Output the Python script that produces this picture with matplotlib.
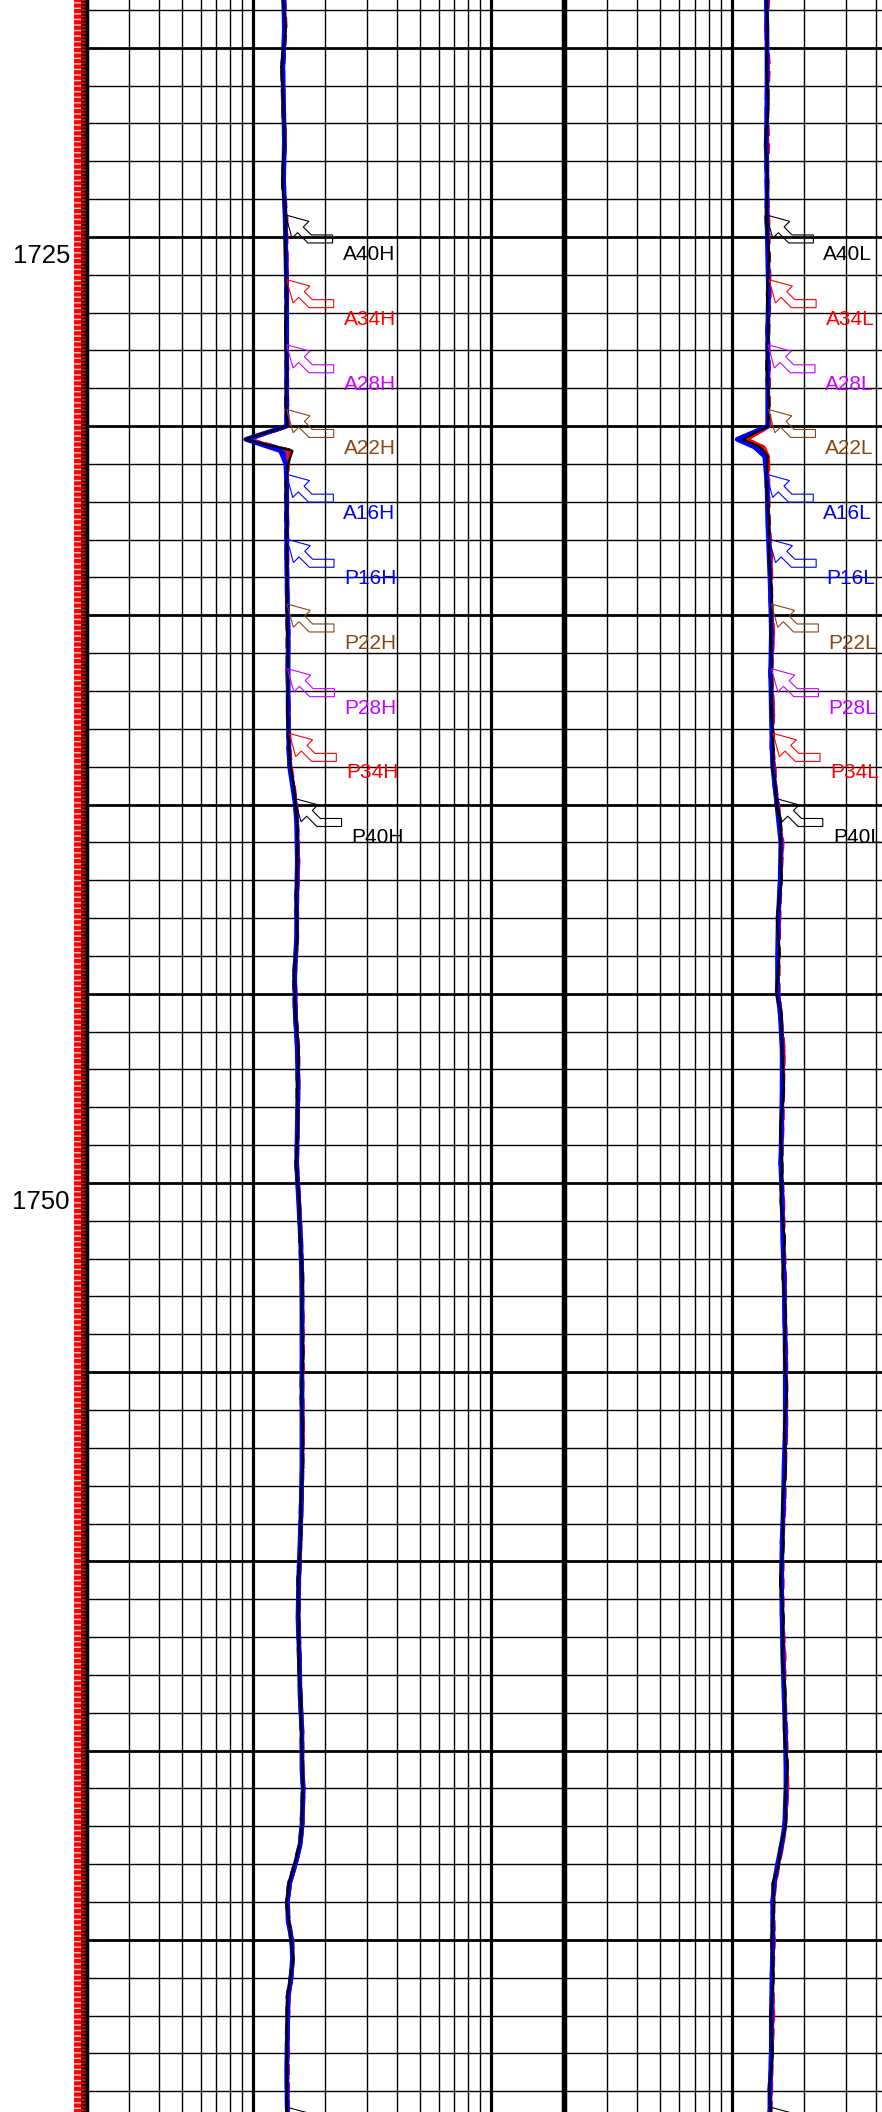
import numpy as np
import matplotlib
matplotlib.use("Agg")
import matplotlib.pyplot as plt
from matplotlib.patches import Polygon, Rectangle
from matplotlib.transforms import Affine2D, ScaledTranslation, blended_transform_factory

plt.rcParams['font.family'] = ['Liberation Sans', 'DejaVu Sans']
plt.rcParams['hatch.linewidth'] = 1.0

# ---------------- data (ohm.m vs depth m) ----------------
top_depth, bottom_depth = 1718.74, 1774.55
depth_labels = [1725, 1750]

depth_h = [1718.7, 1719.5, 1720.5, 1721.5, 1722.5, 1723.5, 1724.5, 1725.5, 1726.5, 1727.5,
           1728.5, 1729.5, 1730.0, 1730.35, 1730.65, 1731.0, 1731.5, 1732.5, 1733.5, 1734.5,
           1735.5, 1736.5, 1737.5, 1738.5, 1739.0, 1739.5, 1740.0, 1740.5, 1741.5, 1742.5,
           1743.5, 1744.5, 1745.5, 1746.5, 1747.5, 1748.5, 1749.5, 1750.5, 1751.5, 1752.5,
           1753.5, 1754.5, 1755.5, 1756.5, 1757.5, 1758.5, 1759.5, 1760.5, 1761.5, 1762.5,
           1763.5, 1764.5, 1765.5, 1766.0, 1767.0, 1767.5, 1768.0, 1768.5, 1769.0, 1769.5,
           1770.0, 1770.5, 1771.0, 1771.5, 1772.5, 1773.5, 1774.6]

A40H = [1.33, 1.37, 1.31, 1.34, 1.35, 1.32, 1.37, 1.36, 1.38, 1.36,
        1.38, 1.37, 1.39, 0.92, 1.46, 1.40, 1.37, 1.38, 1.38, 1.39,
        1.39, 1.40, 1.39, 1.41, 1.43, 1.48, 1.50, 1.53, 1.53, 1.51,
        1.53, 1.48, 1.50, 1.55, 1.53, 1.54, 1.51, 1.56, 1.57, 1.61,
        1.59, 1.62, 1.59, 1.61, 1.61, 1.58, 1.58, 1.54, 1.55, 1.55,
        1.58, 1.59, 1.61, 1.61, 1.60, 1.56, 1.49, 1.41, 1.38, 1.41,
        1.44, 1.47, 1.43, 1.39, 1.38, 1.38, 1.38]
A34H = [1.35, 1.36, 1.33, 1.33, 1.36, 1.34, 1.37, 1.38, 1.38, 1.38,
        1.39, 1.38, 1.40, 0.94, 1.42, 1.39, 1.39, 1.38, 1.39, 1.38,
        1.41, 1.39, 1.41, 1.41, 1.44, 1.47, 1.51, 1.52, 1.55, 1.53,
        1.52, 1.50, 1.51, 1.54, 1.55, 1.53, 1.53, 1.55, 1.59, 1.60,
        1.61, 1.61, 1.61, 1.62, 1.60, 1.60, 1.57, 1.56, 1.54, 1.57,
        1.57, 1.61, 1.60, 1.63, 1.61, 1.58, 1.51, 1.43, 1.40, 1.40,
        1.45, 1.46, 1.45, 1.41, 1.40, 1.39, 1.40]
A28H = [1.34, 1.36, 1.33, 1.34, 1.36, 1.34, 1.37, 1.38, 1.39, 1.38,
        1.38, 1.38, 1.39, 0.95, 1.41, 1.39, 1.38, 1.38, 1.39, 1.39,
        1.40, 1.40, 1.40, 1.42, 1.43, 1.47, 1.51, 1.53, 1.54, 1.53,
        1.52, 1.50, 1.50, 1.54, 1.54, 1.54, 1.52, 1.55, 1.58, 1.60,
        1.60, 1.61, 1.60, 1.61, 1.60, 1.59, 1.57, 1.55, 1.55, 1.56,
        1.58, 1.60, 1.61, 1.62, 1.60, 1.57, 1.50, 1.43, 1.39, 1.40,
        1.45, 1.46, 1.44, 1.40, 1.39, 1.39, 1.39]
A22H = [1.34, 1.35, 1.33, 1.33, 1.35, 1.34, 1.36, 1.37, 1.38, 1.37,
        1.38, 1.38, 1.39, 0.96, 1.40, 1.39, 1.38, 1.38, 1.38, 1.39,
        1.40, 1.39, 1.40, 1.41, 1.43, 1.46, 1.50, 1.52, 1.54, 1.52,
        1.52, 1.49, 1.50, 1.53, 1.54, 1.53, 1.52, 1.55, 1.58, 1.59,
        1.60, 1.60, 1.60, 1.61, 1.60, 1.59, 1.57, 1.55, 1.54, 1.56,
        1.57, 1.60, 1.60, 1.62, 1.60, 1.57, 1.50, 1.42, 1.39, 1.40,
        1.45, 1.46, 1.44, 1.40, 1.39, 1.38, 1.39]
A16H = [1.34, 1.35, 1.33, 1.34, 1.35, 1.34, 1.36, 1.37, 1.38, 1.38,
        1.38, 1.38, 1.38, 0.93, 1.30, 1.37, 1.38, 1.38, 1.38, 1.39,
        1.40, 1.40, 1.40, 1.41, 1.42, 1.46, 1.50, 1.52, 1.53, 1.52,
        1.52, 1.49, 1.50, 1.53, 1.54, 1.53, 1.52, 1.55, 1.58, 1.60,
        1.60, 1.60, 1.60, 1.60, 1.60, 1.59, 1.57, 1.55, 1.54, 1.56,
        1.57, 1.60, 1.60, 1.62, 1.60, 1.57, 1.50, 1.42, 1.39, 1.40,
        1.45, 1.46, 1.44, 1.40, 1.39, 1.38, 1.39]
P16H = [1.35, 1.36, 1.34, 1.33, 1.36, 1.33, 1.37, 1.37, 1.38, 1.37,
        1.39, 1.38, 1.39, 0.94, 1.33, 1.38, 1.38, 1.39, 1.38, 1.39,
        1.40, 1.39, 1.41, 1.41, 1.43, 1.47, 1.50, 1.53, 1.54, 1.52,
        1.53, 1.49, 1.51, 1.54, 1.55, 1.53, 1.52, 1.56, 1.58, 1.60,
        1.61, 1.61, 1.60, 1.61, 1.61, 1.59, 1.58, 1.55, 1.55, 1.56,
        1.58, 1.60, 1.61, 1.62, 1.61, 1.57, 1.50, 1.42, 1.39, 1.41,
        1.45, 1.46, 1.44, 1.40, 1.39, 1.39, 1.39]
P22H = [1.34, 1.36, 1.33, 1.34, 1.35, 1.34, 1.37, 1.37, 1.38, 1.38,
        1.38, 1.39, 1.39, 0.95, 1.38, 1.39, 1.38, 1.38, 1.39, 1.38,
        1.40, 1.40, 1.40, 1.41, 1.43, 1.47, 1.51, 1.52, 1.54, 1.53,
        1.52, 1.50, 1.50, 1.54, 1.54, 1.53, 1.52, 1.55, 1.58, 1.59,
        1.60, 1.61, 1.60, 1.61, 1.60, 1.59, 1.57, 1.56, 1.54, 1.56,
        1.57, 1.60, 1.60, 1.62, 1.60, 1.57, 1.50, 1.43, 1.39, 1.40,
        1.45, 1.46, 1.44, 1.40, 1.39, 1.39, 1.39]
P28H = [1.35, 1.36, 1.33, 1.34, 1.36, 1.33, 1.37, 1.38, 1.38, 1.38,
        1.38, 1.38, 1.40, 0.96, 1.42, 1.39, 1.38, 1.39, 1.39, 1.39,
        1.40, 1.39, 1.41, 1.42, 1.43, 1.47, 1.51, 1.53, 1.54, 1.53,
        1.52, 1.50, 1.51, 1.54, 1.54, 1.54, 1.52, 1.55, 1.59, 1.60,
        1.61, 1.61, 1.60, 1.61, 1.60, 1.59, 1.57, 1.56, 1.55, 1.56,
        1.58, 1.60, 1.61, 1.62, 1.60, 1.57, 1.51, 1.43, 1.39, 1.40,
        1.45, 1.46, 1.44, 1.41, 1.39, 1.39, 1.39]
P34H = [1.35, 1.37, 1.33, 1.34, 1.36, 1.34, 1.38, 1.38, 1.39, 1.38,
        1.39, 1.39, 1.40, 0.95, 1.43, 1.40, 1.39, 1.39, 1.39, 1.39,
        1.41, 1.40, 1.41, 1.42, 1.44, 1.48, 1.52, 1.53, 1.55, 1.53,
        1.53, 1.50, 1.51, 1.55, 1.55, 1.54, 1.53, 1.56, 1.59, 1.61,
        1.61, 1.62, 1.61, 1.62, 1.61, 1.60, 1.58, 1.56, 1.55, 1.57,
        1.58, 1.61, 1.61, 1.63, 1.61, 1.58, 1.51, 1.43, 1.40, 1.41,
        1.46, 1.47, 1.45, 1.41, 1.40, 1.40, 1.40]
P40H = [1.34, 1.36, 1.32, 1.33, 1.35, 1.33, 1.36, 1.37, 1.37, 1.37,
        1.38, 1.37, 1.38, 0.93, 1.44, 1.39, 1.37, 1.37, 1.38, 1.38,
        1.39, 1.39, 1.40, 1.40, 1.42, 1.47, 1.50, 1.52, 1.53, 1.51,
        1.52, 1.48, 1.49, 1.53, 1.53, 1.53, 1.51, 1.55, 1.57, 1.59,
        1.60, 1.60, 1.59, 1.60, 1.60, 1.58, 1.57, 1.54, 1.54, 1.55,
        1.57, 1.59, 1.60, 1.61, 1.59, 1.56, 1.49, 1.41, 1.38, 1.40,
        1.44, 1.46, 1.43, 1.39, 1.38, 1.38, 1.38]

depth_l = [1718.7, 1719.5, 1720.5, 1721.5, 1722.5, 1723.5, 1724.5, 1725.5, 1726.5, 1727.5,
           1728.5, 1729.5, 1730.0, 1730.35, 1730.55, 1730.8, 1731.5, 1732.5, 1733.5, 1734.5,
           1735.5, 1736.5, 1737.5, 1738.5, 1739.0, 1739.5, 1740.0, 1740.5, 1741.0, 1742.0,
           1743.0, 1744.0, 1745.0, 1745.5, 1746.5, 1747.5, 1748.5, 1749.5, 1750.5, 1751.5,
           1752.5, 1753.5, 1754.5, 1755.5, 1756.5, 1757.5, 1758.5, 1759.5, 1760.5, 1761.5,
           1762.5, 1763.5, 1764.5, 1765.5, 1766.0, 1767.0, 1767.5, 1768.0, 1768.5, 1769.0,
           1770.0, 1771.0, 1772.0, 1773.0, 1774.0, 1774.6]

A40L = [1.39, 1.41, 1.39, 1.42, 1.38, 1.41, 1.39, 1.43, 1.40, 1.42,
        1.40, 1.43, 1.41, 1.11, 1.31, 1.41, 1.39, 1.43, 1.43, 1.47,
        1.45, 1.47, 1.46, 1.49, 1.47, 1.52, 1.53, 1.60, 1.59, 1.61,
        1.54, 1.58, 1.53, 1.61, 1.62, 1.65, 1.59, 1.62, 1.60, 1.66,
        1.63, 1.68, 1.65, 1.70, 1.65, 1.68, 1.62, 1.64, 1.59, 1.64,
        1.62, 1.67, 1.65, 1.71, 1.67, 1.68, 1.59, 1.57, 1.48, 1.50,
        1.46, 1.49, 1.45, 1.48, 1.43, 1.45]
A34L = [1.41, 1.38, 1.42, 1.39, 1.41, 1.39, 1.42, 1.41, 1.44, 1.40,
        1.43, 1.41, 1.44, 1.16, 1.36, 1.42, 1.41, 1.41, 1.46, 1.44,
        1.49, 1.44, 1.49, 1.46, 1.51, 1.50, 1.56, 1.57, 1.63, 1.58,
        1.58, 1.55, 1.57, 1.58, 1.65, 1.62, 1.63, 1.59, 1.64, 1.63,
        1.67, 1.65, 1.69, 1.67, 1.69, 1.65, 1.66, 1.61, 1.63, 1.61,
        1.66, 1.64, 1.69, 1.68, 1.71, 1.65, 1.63, 1.55, 1.52, 1.47,
        1.50, 1.46, 1.49, 1.45, 1.46, 1.43]
A28L = [1.40, 1.40, 1.40, 1.41, 1.39, 1.41, 1.40, 1.42, 1.43, 1.41,
        1.42, 1.42, 1.43, 1.14, 1.34, 1.40, 1.41, 1.42, 1.45, 1.45,
        1.48, 1.46, 1.48, 1.47, 1.50, 1.51, 1.55, 1.58, 1.62, 1.60,
        1.57, 1.56, 1.56, 1.60, 1.64, 1.63, 1.62, 1.60, 1.63, 1.64,
        1.66, 1.66, 1.68, 1.68, 1.68, 1.66, 1.65, 1.62, 1.62, 1.62,
        1.65, 1.65, 1.68, 1.69, 1.70, 1.66, 1.62, 1.56, 1.51, 1.48,
        1.49, 1.47, 1.48, 1.46, 1.45, 1.44]
A22L = [1.40, 1.39, 1.41, 1.40, 1.40, 1.40, 1.40, 1.42, 1.42, 1.41,
        1.41, 1.42, 1.42, 1.12, 1.33, 1.40, 1.40, 1.42, 1.44, 1.45,
        1.47, 1.45, 1.47, 1.47, 1.49, 1.51, 1.54, 1.58, 1.61, 1.59,
        1.56, 1.56, 1.55, 1.59, 1.63, 1.63, 1.61, 1.60, 1.62, 1.64,
        1.65, 1.66, 1.67, 1.68, 1.67, 1.66, 1.64, 1.62, 1.61, 1.62,
        1.64, 1.65, 1.67, 1.69, 1.69, 1.66, 1.61, 1.56, 1.50, 1.48,
        1.48, 1.47, 1.47, 1.46, 1.44, 1.44]
A16L = [1.39, 1.40, 1.40, 1.40, 1.39, 1.40, 1.40, 1.41, 1.42, 1.41,
        1.41, 1.41, 1.41, 1.05, 1.24, 1.37, 1.40, 1.41, 1.43, 1.45,
        1.46, 1.45, 1.46, 1.47, 1.48, 1.51, 1.54, 1.57, 1.60, 1.59,
        1.56, 1.55, 1.55, 1.59, 1.62, 1.62, 1.61, 1.60, 1.62, 1.63,
        1.65, 1.66, 1.67, 1.67, 1.67, 1.65, 1.64, 1.62, 1.61, 1.62,
        1.63, 1.65, 1.67, 1.68, 1.68, 1.66, 1.61, 1.55, 1.50, 1.48,
        1.48, 1.47, 1.46, 1.46, 1.44, 1.44]
P16L = [1.41, 1.39, 1.41, 1.39, 1.40, 1.39, 1.41, 1.41, 1.43, 1.40,
        1.42, 1.41, 1.42, 1.07, 1.27, 1.38, 1.41, 1.41, 1.45, 1.44,
        1.48, 1.44, 1.48, 1.46, 1.50, 1.50, 1.55, 1.57, 1.62, 1.58,
        1.57, 1.55, 1.56, 1.58, 1.64, 1.62, 1.62, 1.59, 1.63, 1.63,
        1.66, 1.65, 1.68, 1.67, 1.68, 1.65, 1.65, 1.61, 1.62, 1.61,
        1.65, 1.64, 1.68, 1.68, 1.70, 1.65, 1.62, 1.55, 1.51, 1.47,
        1.49, 1.46, 1.48, 1.45, 1.45, 1.43]
P22L = [1.39, 1.40, 1.40, 1.41, 1.39, 1.41, 1.39, 1.42, 1.41, 1.42,
        1.40, 1.42, 1.41, 1.10, 1.30, 1.39, 1.40, 1.42, 1.43, 1.46,
        1.46, 1.46, 1.47, 1.48, 1.48, 1.52, 1.54, 1.59, 1.60, 1.60,
        1.55, 1.57, 1.54, 1.60, 1.62, 1.64, 1.60, 1.61, 1.61, 1.65,
        1.64, 1.67, 1.66, 1.69, 1.66, 1.67, 1.63, 1.63, 1.60, 1.63,
        1.63, 1.66, 1.66, 1.70, 1.68, 1.67, 1.60, 1.57, 1.49, 1.49,
        1.47, 1.48, 1.46, 1.47, 1.44, 1.45]
P28L = [1.41, 1.39, 1.42, 1.40, 1.40, 1.40, 1.41, 1.42, 1.43, 1.41,
        1.42, 1.42, 1.43, 1.13, 1.33, 1.41, 1.41, 1.42, 1.45, 1.45,
        1.48, 1.46, 1.48, 1.47, 1.50, 1.51, 1.56, 1.58, 1.62, 1.59,
        1.57, 1.56, 1.56, 1.59, 1.64, 1.63, 1.62, 1.60, 1.63, 1.64,
        1.66, 1.66, 1.68, 1.68, 1.68, 1.66, 1.65, 1.62, 1.62, 1.62,
        1.65, 1.65, 1.68, 1.69, 1.70, 1.66, 1.62, 1.56, 1.51, 1.48,
        1.49, 1.47, 1.48, 1.46, 1.45, 1.44]
P34L = [1.42, 1.39, 1.43, 1.40, 1.42, 1.40, 1.42, 1.43, 1.44, 1.42,
        1.43, 1.43, 1.44, 1.15, 1.35, 1.42, 1.42, 1.43, 1.46, 1.46,
        1.49, 1.46, 1.49, 1.48, 1.51, 1.52, 1.56, 1.59, 1.63, 1.60,
        1.58, 1.57, 1.57, 1.60, 1.65, 1.64, 1.63, 1.61, 1.64, 1.65,
        1.67, 1.67, 1.69, 1.69, 1.69, 1.67, 1.66, 1.63, 1.63, 1.63,
        1.66, 1.66, 1.69, 1.70, 1.71, 1.67, 1.63, 1.57, 1.52, 1.49,
        1.50, 1.48, 1.49, 1.47, 1.46, 1.45]
P40L = [1.39, 1.40, 1.40, 1.41, 1.38, 1.40, 1.39, 1.42, 1.41, 1.41,
        1.40, 1.42, 1.41, 1.12, 1.31, 1.40, 1.39, 1.42, 1.43, 1.46,
        1.46, 1.46, 1.46, 1.48, 1.48, 1.51, 1.53, 1.59, 1.60, 1.60,
        1.55, 1.57, 1.54, 1.60, 1.62, 1.64, 1.60, 1.61, 1.61, 1.65,
        1.64, 1.67, 1.66, 1.69, 1.66, 1.67, 1.63, 1.63, 1.60, 1.63,
        1.63, 1.66, 1.66, 1.70, 1.68, 1.67, 1.60, 1.56, 1.49, 1.49,
        1.47, 1.48, 1.46, 1.47, 1.43, 1.45]

# curve flags and the depths where their labels point
label_order = ['A40', 'A34', 'A28', 'A22', 'A16', 'P16', 'P22', 'P28', 'P34', 'P40']
label_depths = [1724.42, 1726.13, 1727.85, 1729.56, 1731.27,
                1732.99, 1734.70, 1736.41, 1738.12, 1739.84]
repeat_flag = ('A40', 1774.42)   # next flag set, only its tip is in view

colors = {'40': '#000000', '34': '#ff0000', '28': '#c800ff', '22': '#8b4513', '16': '#0000ff'}

high = {'A40': A40H, 'A34': A34H, 'A28': A28H, 'A22': A22H, 'A16': A16H,
        'P16': P16H, 'P22': P22H, 'P28': P28H, 'P34': P34H, 'P40': P40H}
low = {'A40': A40L, 'A34': A34L, 'A28': A28L, 'A22': A22L, 'A16': A16L,
       'P16': P16L, 'P22': P22L, 'P28': P28L, 'P34': P34L, 'P40': P40L}

# log grid of a 0.2 - 20 track
minor_x = [0.3, 0.4, 0.5, 0.6, 0.7, 0.8, 0.9, 2, 3, 4, 5, 6, 7, 8, 9]
major_x = [1, 10]

# hollow bent arrow used for the curve flags (pixels, tip at origin)
arrow_shape = [(0, 0), (23.3, -6.4), (17.7, -12.0), (25.7, -20), (47, -20),
               (47, -28), (22.3, -28), (12.0, -17.7), (6.4, -23.3)]

# ---------------- figure ----------------
W, H = 882, 2112
fig = plt.figure(figsize=(W / 100, H / 100), dpi=100)
ax_d = fig.add_axes([74 / W, 0, 13 / W, 1])
ax_h = fig.add_axes([87 / W, 0, 476 / W, 1])
ax_l = fig.add_axes([565 / W, 0, 478 / W, 1])

# depth strip
ax_d.set_xlim(0, 1)
ax_d.set_ylim(bottom_depth, top_depth)
ax_d.axis('off')
ax_d.add_patch(Rectangle((0, 0), 0.5, 1, transform=ax_d.transAxes, facecolor='#ff0000',
                         edgecolor='#ffd0d0', hatch='---', lw=0))
ax_d.add_patch(Rectangle((0.5, 0), 0.5, 1, transform=ax_d.transAxes, facecolor='#e00000',
                         edgecolor='black', hatch='-----', lw=0))

lab_tr = blended_transform_factory(fig.transFigure, ax_d.transData)
for d in depth_labels:
    fig.text(70 / W, d + 0.5, str(d), transform=lab_tr, ha='right', va='center',
             fontsize=18.5, color='black')


def setup_track(ax):
    ax.set_xscale('log')
    ax.set_xlim(0.2, 20)
    ax.set_ylim(bottom_depth, top_depth)
    ax.set_xticks([])
    ax.set_xticks([], minor=True)
    ax.set_yticks([])
    for x in minor_x:
        ax.axvline(x, color='black', lw=1.0, zorder=1)
    for x in major_x:
        ax.axvline(x, color='black', lw=2.3, zorder=1)
    for d in range(int(np.ceil(top_depth)), int(bottom_depth) + 1):
        ax.axhline(d, color='black', lw=2.0 if d % 5 == 0 else 1.0, zorder=1)
    for side in ['top', 'bottom']:
        ax.spines[side].set_visible(False)
    ax.spines['left'].set_linewidth(2.5)
    ax.spines['right'].set_linewidth(2.5)


def draw_track(ax, depth, curves, suffix):
    setup_track(ax)
    # dashed P curves first, then solid A curves, blue wide, black on top
    for key in ['P22', 'P28', 'P34', 'P16', 'P40']:
        ax.plot(curves[key], depth, color=colors[key[1:]], lw=2.6,
                ls=(0, (3, 2)), zorder=3)
    for key in ['A22', 'A28', 'A34', 'A16', 'A40']:
        lw = {'A16': 3.4, 'A40': 1.6}.get(key, 2.2)
        ax.plot(curves[key], depth, color=colors[key[1:]], lw=lw, zorder=3)

    flags = list(zip(label_order, label_depths)) + [repeat_flag]
    for i, (key, d) in enumerate(flags):
        v = np.interp(d, depth, curves[key])
        c = colors[key[1:]]
        tr = Affine2D().scale(fig.dpi / 100) + ScaledTranslation(v, d, ax.transData)
        ax.add_patch(Polygon(arrow_shape, closed=True, facecolor='none', edgecolor=c,
                             lw=0.8, transform=tr, zorder=4))
        if i < len(label_order):
            ax.annotate(key + suffix, (v, d), xytext=(57, -45), textcoords='offset pixels',
                        ha='left', va='baseline', fontsize=15, color=c, zorder=5)


draw_track(ax_h, depth_h, high, 'H')
draw_track(ax_l, depth_l, low, 'L')

fig.savefig('out.png', dpi=100)
